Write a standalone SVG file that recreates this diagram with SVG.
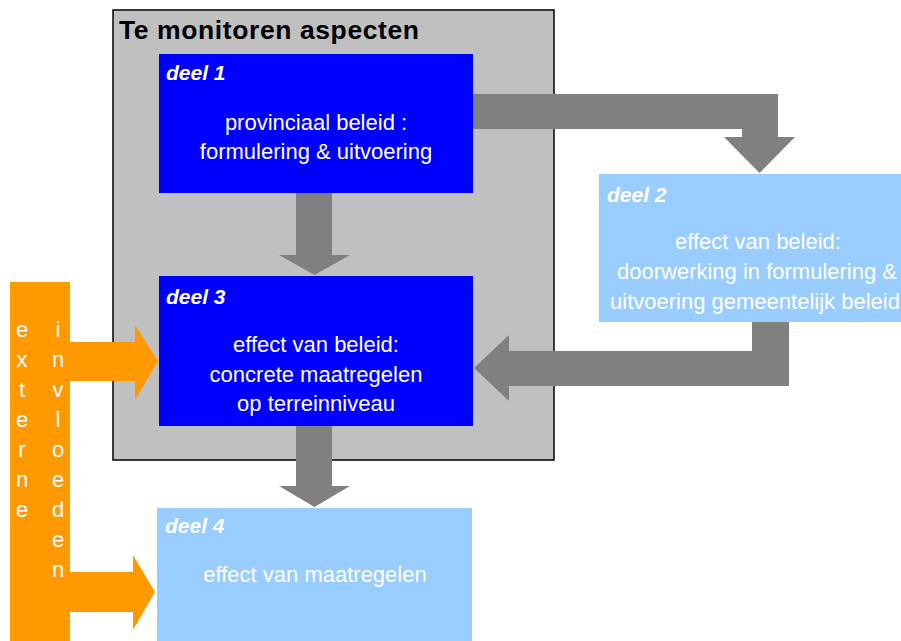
<svg xmlns="http://www.w3.org/2000/svg" width="901" height="641" viewBox="0 0 901 641">
<style>
text{font-family:"Liberation Sans",Arial,sans-serif}
.title{font-size:26.5px;font-weight:bold;fill:#000}
.lbl{font-size:21px;font-weight:bold;font-style:italic;fill:#fff}
.body{font-size:22px;fill:#fff;text-anchor:middle}
.ext{font-size:22px;fill:#fff;text-anchor:middle}
.dark{fill:#0000FF}
.light{fill:#99CCFF}
.arr{fill:#808080}
.or{fill:#FF9900}
</style>
<rect width="901" height="641" fill="#fff"/>
<g id="container">
<rect x="113" y="10" width="441" height="450" fill="#C0C0C0" stroke="#000" stroke-width="1.5"/>
<text class="title" x="119" y="39" textLength="300">Te monitoren aspecten</text>
</g>
<g id="deel1">
<rect class="dark" x="159" y="54" width="314" height="139"/>
<text class="lbl" x="166" y="80">deel 1</text>
<text class="body" x="316" y="130">provinciaal beleid :</text>
<text class="body" x="316" y="159">formulering &amp; uitvoering</text>
</g>
<g id="deel3">
<rect class="dark" x="159" y="276" width="314" height="150"/>
<text class="lbl" x="166" y="304">deel 3</text>
<text class="body" x="316" y="352">effect van beleid:</text>
<text class="body" x="316" y="382">concrete maatregelen</text>
<text class="body" x="316" y="411">op terreinniveau</text>
</g>
<g id="deel2">
<rect class="light" x="599" y="174" width="310" height="148"/>
<text class="lbl" x="607" y="202">deel 2</text>
<text class="body" x="758" y="249">effect van beleid:</text>
<text class="body" x="757" y="279">doorwerking in formulering &amp;</text>
<text class="body" x="755" y="309">uitvoering gemeentelijk beleid</text>
</g>
<g id="deel4">
<rect class="light" x="157" y="508" width="315" height="140"/>
<text class="lbl" x="165" y="533">deel 4</text>
<text class="body" x="315" y="582">effect van maatregelen</text>
</g>
<g id="externe-invloeden">
<rect class="or" x="10" y="282" width="60" height="365"/>
<text class="ext"><tspan x="22" y="337">e</tspan><tspan x="22" y="367">x</tspan><tspan x="22" y="397">t</tspan><tspan x="22" y="427">e</tspan><tspan x="22" y="457">r</tspan><tspan x="22" y="487">n</tspan><tspan x="22" y="517">e</tspan></text>
<text class="ext"><tspan x="58" y="337">i</tspan><tspan x="58" y="367">n</tspan><tspan x="58" y="397">v</tspan><tspan x="58" y="427">l</tspan><tspan x="58" y="457">o</tspan><tspan x="58" y="487">e</tspan><tspan x="58" y="517">d</tspan><tspan x="58" y="547">e</tspan><tspan x="58" y="577">n</tspan></text>
</g>
<g id="connectors">
<polygon class="arr" points="473,94 778,94 778,137 795,137 759.5,173 724,137 742,137 742,129 473,129"/>
<polygon class="arr" points="296,193 332,193 332,255 350,255 314.5,275 279,255 296,255"/>
<polygon class="arr" points="296,426 332,426 332,486 350,486 314.5,507 279,486 296,486"/>
<polygon class="arr" points="752,322 789,322 789,386 509,386 509,401 474,368 509,335 509,351 752,351"/>
<polygon class="or" points="70,342 135,342 135,325 158,361 135,400 135,381 70,381"/>
<polygon class="or" points="70,572 133,572 133,555 155,592 133,630 133,612 70,612"/>
</g>
</svg>
